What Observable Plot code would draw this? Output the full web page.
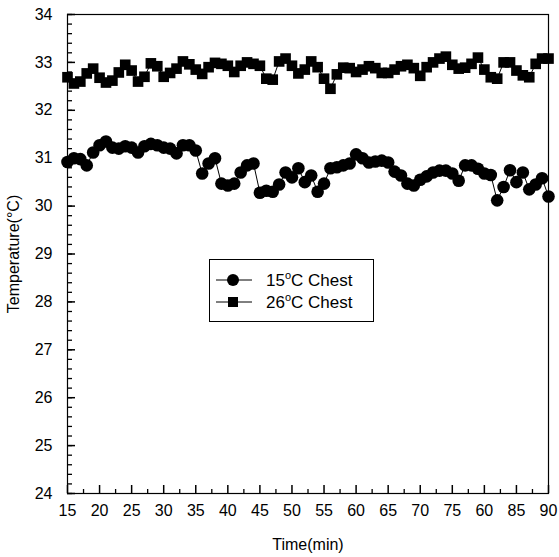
<!DOCTYPE html>
<html><head><meta charset="utf-8">
<script src="https://cdn.jsdelivr.net/npm/d3@7"></script>
<script src="https://cdn.jsdelivr.net/npm/@observablehq/plot@0.6"></script>
<style>
body{margin:0;background:#fff;}
#wrap{position:relative;width:559px;height:557px;font-family:"Liberation Sans",Arial,sans-serif;}
#legend{position:absolute;left:209px;top:259px;width:165px;height:63px;border:1px solid #000;box-sizing:border-box;background:#fff;}
.row{position:absolute;left:0;height:20px;display:flex;align-items:center;font-size:17px;color:#000;}
.row svg{margin-left:6px;margin-right:14px;}
sup{font-size:11px;vertical-align:7px;}
</style></head><body><div id="wrap"></div><script>
const minutes = [15,16,17,18,19,20,21,22,23,24,25,26,27,28,29,30,31,32,33,34,35,36,37,38,39,40,41,42,43,44,45,46,47,48,49,50,51,52,53,54,55,56,57,58,59,60,61,62,63,64,65,66,67,68,69,70,71,72,73,74,75,76,77,78,79,80,81,82,83,84,85,86,87,88,89,90];
const chest15 = [30.92,31.0,30.98,30.85,31.12,31.27,31.35,31.22,31.2,31.25,31.22,31.12,31.25,31.3,31.27,31.22,31.2,31.1,31.27,31.27,31.16,30.68,30.89,31.0,30.47,30.43,30.47,30.7,30.85,30.89,30.28,30.32,30.3,30.45,30.7,30.6,30.79,30.5,30.64,30.3,30.47,30.79,30.81,30.85,30.89,31.08,31.0,30.91,30.93,30.95,30.91,30.72,30.64,30.47,30.43,30.55,30.62,30.7,30.74,30.74,30.68,30.53,30.85,30.85,30.78,30.68,30.65,30.12,30.4,30.75,30.5,30.7,30.35,30.45,30.58,30.2];
const chest26 = [32.69,32.56,32.6,32.77,32.87,32.68,32.58,32.62,32.79,32.95,32.83,32.6,32.7,32.98,32.92,32.7,32.78,32.87,33.02,32.96,32.85,32.76,32.9,32.99,32.97,32.93,32.8,32.93,33.0,32.97,32.93,32.66,32.64,33.02,33.08,32.93,32.77,32.85,33.02,32.9,32.66,32.45,32.75,32.89,32.88,32.8,32.85,32.92,32.88,32.78,32.78,32.85,32.92,32.95,32.88,32.72,32.9,33.0,33.08,33.12,32.95,32.87,32.89,32.97,33.1,32.85,32.69,32.66,33.0,33.0,32.83,32.73,32.69,32.97,33.08,33.08];
const seriesNames = ["15°C Chest", "26°C Chest"];
const xTickValues = [15,20,25,30,35,40,45,50,55,60,65,70,75,80,85,90];
const xTickLabels = ["15","20","25","30","35","40","45","50","55","60","65","70","75","60","85","90"];
const xMinorTicks = [17.5,22.5,27.5,32.5,37.5,42.5,47.5,52.5,57.5,62.5,67.5,72.5,77.5,82.5,87.5];
const yTickValues = [24,25,26,27,28,29,30,31,32,33,34];
const yMinorTicks = d3.range(24, 34.001, 0.2).map(v => +v.toFixed(1));

const rows15 = minutes.map((t, i) => ({t, v: chest15[i]}));
const rows26 = minutes.map((t, i) => ({t, v: chest26[i]}));
const labelOf = new Map(xTickValues.map((v, i) => [v, xTickLabels[i]]));

const W = 559, H = 557, mL = 67, mR = 11, mT = 14, mB = 64;
const plotW = W - mL - mR, plotH = H - mT - mB;

const chart = Plot.plot({
  width: W, height: H,
  marginLeft: mL, marginRight: mR, marginTop: mT, marginBottom: mB,
  style: {fontFamily: '"Liberation Sans", Arial, sans-serif', fontSize: "16px", color: "#000", background: "#fff"},
  x: {domain: [15, 90]},
  y: {domain: [24, 34]},
  marks: [
    Plot.frame({stroke: "#000", strokeWidth: 1.2}),
    Plot.axisX({ticks: xTickValues, tickSize: 0, tickPadding: 11, tickFormat: d => labelOf.get(d), fontSize: 16,
      label: "Time(min)", labelAnchor: "center", labelOffset: 56, labelArrow: false}),
    Plot.axisY({ticks: yTickValues, tickSize: 0, tickPadding: 15, fontSize: 16,
      label: "Temperature(°C)", labelAnchor: "center", labelOffset: 60, labelArrow: false}),
    Plot.tickX(xTickValues, {x: d => d, insetTop: plotH - 8, stroke: "#000", strokeWidth: 1.5}),
    Plot.tickX(xMinorTicks, {x: d => d, insetTop: plotH - 4, stroke: "#000", strokeWidth: 1.3}),
    Plot.tickY(yTickValues, {y: d => d, insetRight: plotW - 8, stroke: "#000", strokeWidth: 1.5}),
    Plot.tickY(yMinorTicks, {y: d => d, insetRight: plotW - 5, stroke: "#000", strokeWidth: 1.3}),
    Plot.line(rows15, {x: "t", y: "v", stroke: "#000", strokeWidth: 1}),
    Plot.dot(rows15, {x: "t", y: "v", r: 6.3, fill: "#000", stroke: "none", symbol: "circle"}),
    Plot.line(rows26, {x: "t", y: "v", stroke: "#000", strokeWidth: 1}),
    Plot.dot(rows26, {x: "t", y: "v", r: 6.0, fill: "#000", stroke: "none", symbol: "square"})
  ]
});
const wrap = document.getElementById("wrap");
wrap.appendChild(chart);

const legend = document.createElement("div");
legend.id = "legend";
const sym = (kind) => `<svg width="36" height="14"><line x1="0" y1="7" x2="36" y2="7" stroke="#000" stroke-width="1"/>` +
  (kind === "circle" ? `<circle cx="17" cy="7" r="6" fill="#000"/>` : `<rect x="12" y="2" width="10" height="10" fill="#000"/>`) + `</svg>`;
const fmt = (name) => name.replace("°", "<sup>o</sup>");
legend.innerHTML =
  `<div class="row" style="top:10px">${sym("circle")}<span>${fmt(seriesNames[0])}</span></div>` +
  `<div class="row" style="top:32px">${sym("square")}<span>${fmt(seriesNames[1])}</span></div>`;
wrap.appendChild(legend);
</script></body></html>
